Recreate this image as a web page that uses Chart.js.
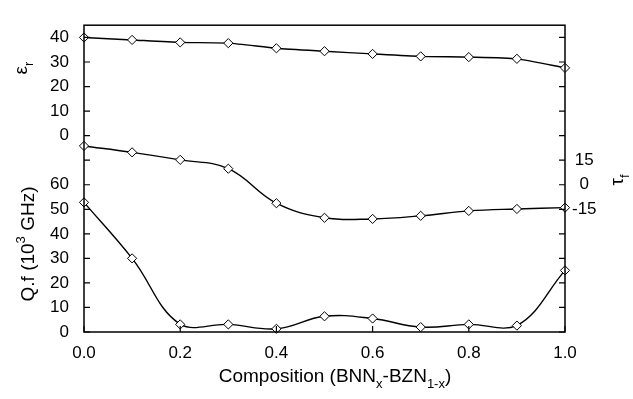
<!DOCTYPE html>
<html>
<head>
<meta charset="utf-8">
<script src="https://cdn.jsdelivr.net/npm/chart.js@4/dist/chart.umd.min.js"></script>
<style>
  html, body { margin: 0; padding: 0; background: #fff; }
  #wrap { width: 633px; height: 399px; }
</style>
</head>
<body>
<div id="wrap"><canvas id="c" width="633" height="399"></canvas></div>
<script>
// composition x of BNN_x-BZN_(1-x)
var composition = [0.0, 0.1, 0.2, 0.3, 0.4, 0.5, 0.6, 0.7, 0.8, 0.9, 1.0];
// dielectric constant
var epsR = [40.0, 39.0, 38.0, 37.7, 35.6, 34.4, 33.3, 32.3, 32.0, 31.3, 27.6];
// temperature coefficient of resonant frequency (ppm/C)
var tauF = [23.7, 19.8, 15.2, 9.8, -11.3, -20.2, -20.9, -19.0, -16.0, -14.8, -14.0];
// quality factor Q.f (10^3 GHz)
var qf = [52.8, 30.0, 3.1, 3.1, 1.3, 6.4, 5.5, 2.0, 3.1, 2.6, 25.1];

// left axis carries both Q.f (0..60) and eps_r (shown 0..40 at 80..120)
var rightTickLabels = [-15, 0, 15];

Chart.defaults.font.family = "'Liberation Sans', Arial, sans-serif";
Chart.defaults.font.size = 17;
Chart.defaults.color = '#000';

function pts(vals) {
  return vals.map(function (v, i) { return { x: composition[i], y: v }; });
}

function series(vals, axis, tension) {
  return {
    data: pts(vals),
    yAxisID: axis,
    borderColor: '#000',
    borderWidth: 1.4,
    tension: tension,
    pointStyle: 'rectRot',
    pointRadius: 4.6,
    pointBackgroundColor: '#fff',
    pointBorderColor: '#000',
    pointBorderWidth: 1,
    clip: false
  };
}

// draws text made of normal/sub/sup pieces, centred on (cx, cy)
function richText(ctx, parts, cx, cy, rot, size) {
  ctx.save();
  ctx.translate(cx, cy);
  ctx.rotate(rot);
  ctx.fillStyle = '#000';
  ctx.textBaseline = 'alphabetic';
  ctx.textAlign = 'left';
  var small = Math.round(size * 0.7);
  var w = 0;
  parts.forEach(function (p) {
    ctx.font = (p.s ? small : size) + "px 'Liberation Sans', Arial, sans-serif";
    p.w = ctx.measureText(p.t).width;
    w += p.w;
  });
  var x = -w / 2;
  var base = size * 0.36;
  parts.forEach(function (p) {
    ctx.font = (p.s ? small : size) + "px 'Liberation Sans', Arial, sans-serif";
    var dy = p.s === 'sub' ? size * 0.3 : (p.s === 'sup' ? -size * 0.45 : 0);
    ctx.fillText(p.t, x, base + dy);
    x += p.w;
  });
  ctx.restore();
}

var framePlugin = {
  id: 'frame',
  afterDatasetsDraw: function (chart) {
    var ctx = chart.ctx, a = chart.chartArea;
    var sx = chart.scales.x, sq = chart.scales.yQ, st = chart.scales.yT;
    ctx.save();
    ctx.strokeStyle = '#000';
    ctx.lineWidth = 1.5;
    ctx.strokeRect(a.left, a.top, a.right - a.left, a.bottom - a.top);
    ctx.lineWidth = 1.2;
    ctx.beginPath();
    sq.ticks.forEach(function (t) {
      var y = sq.getPixelForValue(t.value);
      ctx.moveTo(a.left, y); ctx.lineTo(a.left + 6, y);
    });
    st.ticks.forEach(function (t) {
      var y = st.getPixelForValue(t.value);
      ctx.moveTo(a.right, y); ctx.lineTo(a.right - 6, y);
    });
    sx.ticks.forEach(function (t) {
      var x = sx.getPixelForValue(t.value);
      ctx.moveTo(x, a.bottom); ctx.lineTo(x, a.bottom - 6);
    });
    ctx.stroke();
    ctx.restore();
  },
  afterDraw: function (chart) {
    var ctx = chart.ctx;
    richText(ctx, [{ t: '\u03b5' }, { t: 'r', s: 'sub' }], 20, 68, -Math.PI / 2, 19);
    richText(ctx, [{ t: 'Q.f (10' }, { t: '3', s: 'sup' }, { t: ' GHz)' }], 27, 244, -Math.PI / 2, 19);
    richText(ctx, [{ t: '\u03c4' }, { t: 'f', s: 'sub' }], 616, 180, -Math.PI / 2, 19);
    richText(ctx, [{ t: 'Composition (BNN' }, { t: 'x', s: 'sub' }, { t: '-BZN' },
      { t: '1-x', s: 'sub' }, { t: ')' }], 335, 375, 0, 19);
  }
};

new Chart(document.getElementById('c'), {
  type: 'line',
  data: {
    datasets: [
      series(epsR, 'yE', 0.2),
      series(tauF, 'yT', 0.4),
      series(qf, 'yQ', 0.4)
    ]
  },
  options: {
    responsive: false,
    animation: false,
    layout: { padding: { top: 7, left: 0, right: 0, bottom: 0 } },
    plugins: { legend: { display: false }, tooltip: { enabled: false } },
    scales: {
      x: {
        type: 'linear', min: 0, max: 1,
        grid: { display: false, drawTicks: false },
        border: { display: false },
        ticks: {
          stepSize: 0.2, padding: 11,
          callback: function (v) { return v.toFixed(1); }
        },
        afterFit: function (s) { s.height = 67; }
      },
      yQ: {
        type: 'linear', position: 'left', min: 0, max: 125,
        grid: { display: false, drawTicks: false },
        border: { display: false },
        ticks: {
          stepSize: 10, padding: 15, includeBounds: false,
          callback: function (v) {
            if (v <= 60) return String(v);
            if (v >= 80) return String(v - 80);
            return '';
          }
        },
        afterFit: function (s) { s.width = 84; }
      },
      yE: {
        type: 'linear', display: false, min: -80, max: 45
      },
      yT: {
        type: 'linear', position: 'right', min: -90, max: 97.5,
        grid: { display: false, drawTicks: false },
        border: { display: false },
        ticks: {
          stepSize: 15, padding: 7, includeBounds: false, crossAlign: 'center',
          callback: function (v) { return rightTickLabels.indexOf(v) >= 0 ? String(v) : ''; }
        },
        afterFit: function (s) { s.width = 68; }
      }
    }
  },
  plugins: [framePlugin]
});
</script>
</body>
</html>
